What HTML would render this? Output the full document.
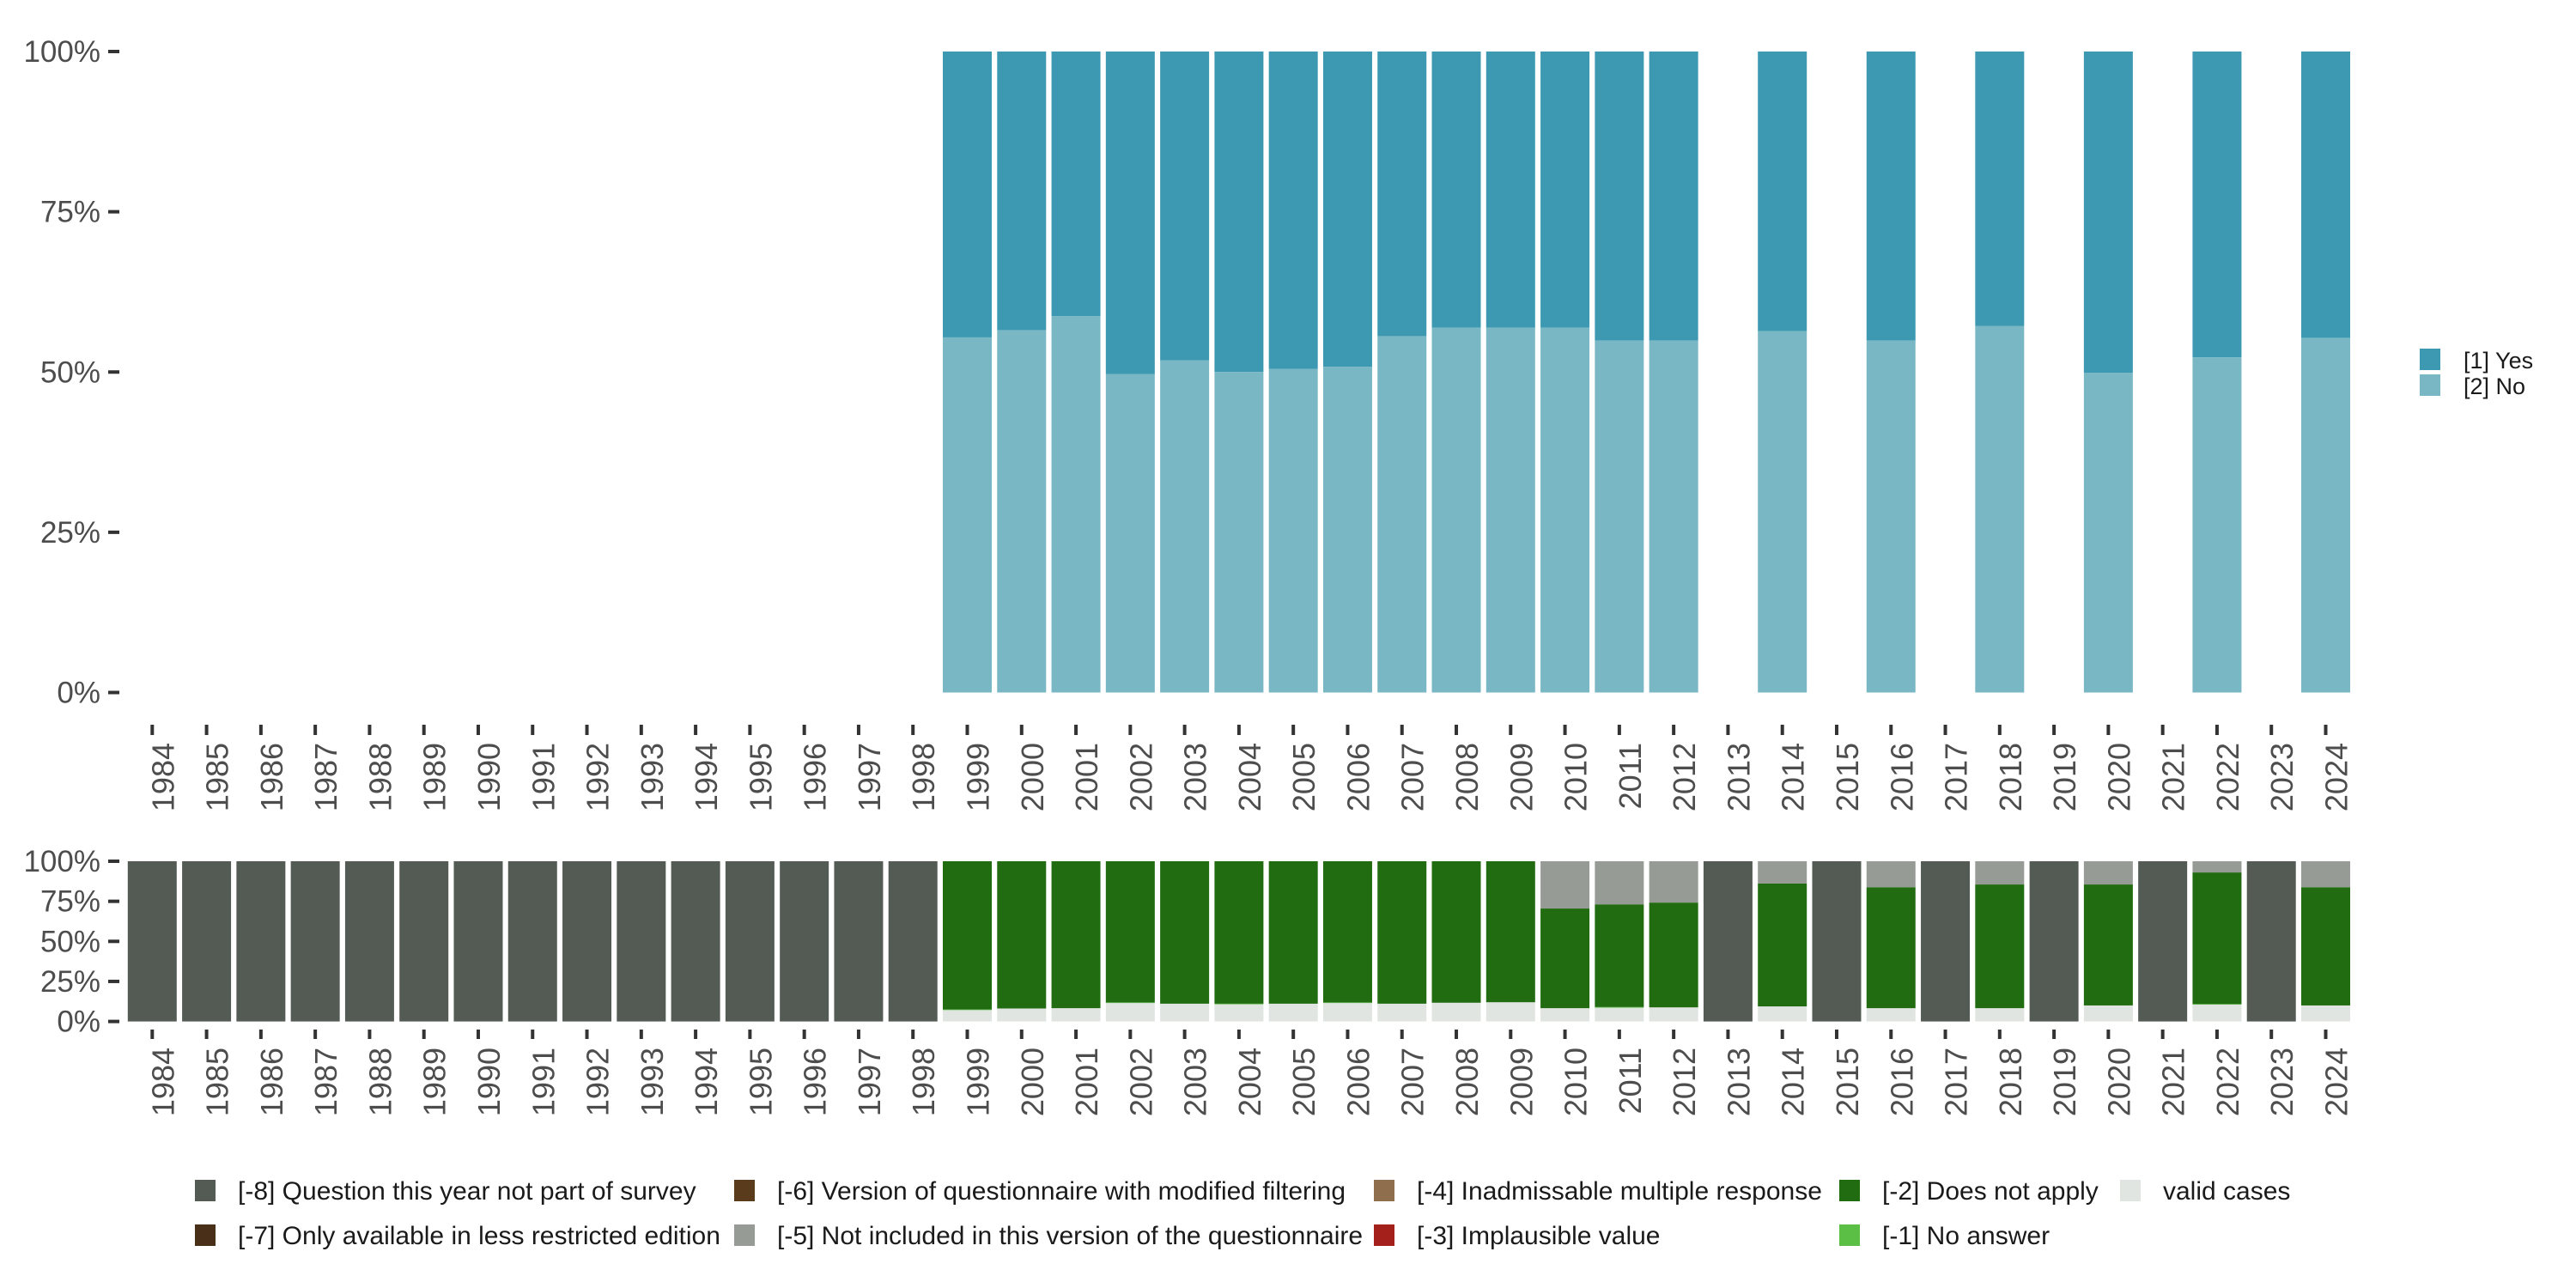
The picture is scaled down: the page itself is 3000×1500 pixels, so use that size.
<!DOCTYPE html>
<html><head><meta charset="utf-8"><style>
html,body{margin:0;padding:0;background:#fff;width:3000px;height:1500px;overflow:hidden}
svg{display:block;font-family:"Liberation Sans",sans-serif}
</style></head><body>
<svg id="chart" width="3000" height="1500" viewBox="0 0 3000 1500">
<g id="top"></g>
<g id="bottom"></g>
<g id="legendTop">
<rect x="2818" y="406" width="24" height="25" fill="#3d99b1"/>
<text x="2869" y="429" font-size="27" fill="#1a1a1a">[1] Yes</text>
<rect x="2818" y="436" width="24" height="25" fill="#7ab7c5"/>
<text x="2869" y="459" font-size="27" fill="#1a1a1a">[2] No</text>
</g>
<g id="legendBottom"></g>
</svg>
<script>
const years = [];
for (let y = 1984; y <= 2024; y++) years.push(String(y));
const noYears = ["1999","2000","2001","2002","2003","2004","2005","2006","2007","2008","2009","2010","2011","2012","2014","2016","2018","2020","2022","2024"];
const noPct = [55.4,56.5,58.7,49.7,51.8,50.0,50.5,50.8,55.6,56.9,56.9,56.9,54.9,54.9,56.4,54.9,57.2,49.9,52.3,55.3];
const validPct = [7.1,8.1,8.3,11.5,11.1,10.7,11.1,11.5,11.1,11.7,12.0,8.3,8.6,8.8,9.4,8.3,8.3,10.0,10.5,10.0];
const noAnswerPct = [0.4,0,0,0.4,0,0.4,0,0.4,0,0,0,0,0.4,0,0,0,0,0,0.4,0];
const notIncludedPct = [0,0,0,0,0,0,0,0,0,0,0,29.5,26.9,25.8,13.9,16.2,14.5,14.5,7.0,16.2];
const yTicks = [0,25,50,75,100];
const yTickLabels = ["0%","25%","50%","75%","100%"];

const NS = "http://www.w3.org/2000/svg";
const x0 = 177.3, step = 63.28, bw = 57;
function xc(i){ return x0 + i*step; }
function mk(tag, attrs, parent){ const e = document.createElementNS(NS, tag); for (const k in attrs) e.setAttribute(k, attrs[k]); parent.appendChild(e); return e; }

function axes(g, yTop, yBot, tickY0, tickY1, labY, fs, axisName){
  const ys = v => yBot - (yBot - yTop) * v / 100;
  yTicks.forEach((t, i) => {
    const l = mk("line", {x1:126, x2:139, y1:ys(t), y2:ys(t), stroke:"#333", "stroke-width":4}, g);
    
    
    const tx = mk("text", {x:117, y:ys(t)+12, "text-anchor":"end", "font-size":35, fill:"#4d4d4d"}, g);
    tx.textContent = yTickLabels[i];
    
    
  });
  years.forEach((yr, i) => {
    const l = mk("line", {x1:xc(i), x2:xc(i), y1:tickY0, y2:tickY1, stroke:"#333", "stroke-width":4}, g);
    
    
    const tx = mk("text", {x:0, y:0, "text-anchor":"end", "font-size":fs, fill:"#4d4d4d",
      transform:"translate(" + (xc(i)+25) + "," + labY + ") rotate(-90)"}, g);
    tx.textContent = yr;
    
    
  });
  return ys;
}

// Top chart
const gt = document.getElementById("top");
const ysT = axes(gt, 60, 806.5, 844, 856, 865, 36, "top");
noYears.forEach((yr, k) => {
  const i = years.indexOf(yr);
  const r1 = mk("rect", {x:xc(i)-bw/2, y:ysT(100), width:bw, height:ysT(noPct[k]) - ysT(100), fill:"#3d99b1"}, gt);
  
  
  const r2 = mk("rect", {x:xc(i)-bw/2, y:ysT(noPct[k]), width:bw, height:ysT(0) - ysT(noPct[k]), fill:"#7ab7c5"}, gt);
  
  
});

// Bottom chart
const gb = document.getElementById("bottom");
const ysB = axes(gb, 1003, 1189.6, 1199, 1210, 1220, 36, "bottom");
years.forEach((yr, i) => {
  const k = noYears.indexOf(yr);
  let segs;
  if (k < 0) segs = [["#545b55", 100, "not-part"]];
  else {
    const dna = 100 - validPct[k] - noAnswerPct[k] - notIncludedPct[k];
    segs = [["#e1e5e1", validPct[k], "valid"], ["#5bbf45", noAnswerPct[k], "no-answer"], ["#216b10", dna, "does-not-apply"], ["#979b96", notIncludedPct[k], "not-included"]];
  }
  let cum = 0;
  segs.forEach(s => {
    if (s[1] <= 0) return;
    const r = mk("rect", {x:xc(i)-bw/2, y:ysB(cum + s[1]), width:bw, height:ysB(cum) - ysB(cum + s[1]), fill:s[0]}, gb);
    
    
    cum += s[1];
  });
});

// Bottom legend
const legItems = [
  [227, 1374, "#545b55", "[-8] Question this year not part of survey"],
  [227, 1426, "#4a2f18", "[-7] Only available in less restricted edition"],
  [855, 1374, "#5a3b1c", "[-6] Version of questionnaire with modified filtering"],
  [855, 1426, "#979b96", "[-5] Not included in this version of the questionnaire"],
  [1600, 1374, "#8f6e4d", "[-4] Inadmissable multiple response"],
  [1600, 1426, "#a3211a", "[-3] Implausible value"],
  [2142, 1374, "#216b10", "[-2] Does not apply"],
  [2142, 1426, "#5bbf45", "[-1] No answer"],
  [2469, 1374, "#e1e5e1", "valid cases"]
];
const gl = document.getElementById("legendBottom");
// draw labels first so swatches overlap text as in reference
legItems.forEach(it => {
  const t = mk("text", {x:it[0]+50, y:it[1]+23, "font-size":30, fill:"#1a1a1a"}, gl);
  t.textContent = it[3];
  
  
});
legItems.forEach(it => {
  const r = mk("rect", {x:it[0], y:it[1], width:24, height:25, fill:it[2]}, gl);
  
  
});
</script>
</body></html>
